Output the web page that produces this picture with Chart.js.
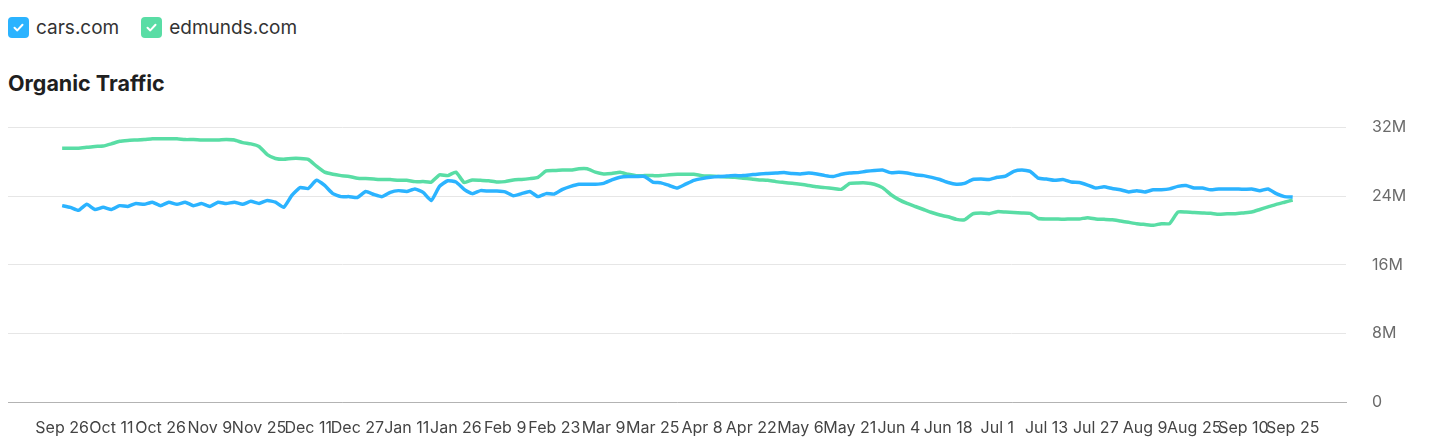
<!DOCTYPE html>
<html>
<head>
<meta charset="utf-8">
<script src="https://cdn.jsdelivr.net/npm/chart.js@4"></script>
<style>
  body { margin: 0; background: #fff; font-family: Inter, "Noto Sans", sans-serif; }
  .legend { position: absolute; left: 8px; top: 16px; display: flex; align-items: center; }
  .item { display: flex; align-items: center; margin-right: 22px; font-size: 19px; color: #333; }
  .box { width: 21px; height: 21px; border-radius: 4px; margin-right: 7px; display: flex; align-items: center; justify-content: center; }
  .title { position: absolute; left: 8px; top: 70px; font-size: 21.5px; font-weight: 700; color: #1f1f1f; }
  .wrap { position: absolute; left: 0; top: 92px; width: 1429px; height: 349px; }
</style>
</head>
<body>
<div class="legend">
  <div class="item"><div class="box" style="background:#2bb3ff"><svg width="13" height="13" viewBox="0 0 13 13"><path d="M2.5 6.8 L5.3 9.4 L10.5 3.8" stroke="#fff" stroke-width="2" fill="none" stroke-linecap="round" stroke-linejoin="round"/></svg></div>cars.com</div>
  <div class="item"><div class="box" style="background:#59dda5"><svg width="13" height="13" viewBox="0 0 13 13"><path d="M2.5 6.8 L5.3 9.4 L10.5 3.8" stroke="#fff" stroke-width="2" fill="none" stroke-linecap="round" stroke-linejoin="round"/></svg></div>edmunds.com</div>
</div>
<div class="title">Organic Traffic</div>
<div class="wrap"><canvas id="chart"></canvas></div>
<script>
// tick labels, one every 6 points
var tickLabels = ['Sep 26', 'Oct 11', 'Oct 26', 'Nov 9', 'Nov 25', 'Dec 11', 'Dec 27', 'Jan 11', 'Jan 26',
  'Feb 9', 'Feb 23', 'Mar 9', 'Mar 25', 'Apr 8', 'Apr 22', 'May 6', 'May 21', 'Jun 4', 'Jun 18',
  'Jul 1', 'Jul 13', 'Jul 27', 'Aug 9', 'Aug 25', 'Sep 10', 'Sep 25'];

// organic traffic, millions
var carsCom = [22.9, 22.7, 22.35, 23.05, 22.45, 22.7, 22.45, 22.9, 22.8, 23.15,
  23.05, 23.3, 22.9, 23.3, 23.05, 23.3, 22.9, 23.15, 22.8, 23.3,
  23.15, 23.3, 23.05, 23.4, 23.15, 23.5, 23.3, 22.7, 24.1, 25.0,
  24.9, 25.85, 25.25, 24.3, 23.95, 23.95, 23.85, 24.55, 24.2, 23.95,
  24.45, 24.65, 24.55, 24.85, 24.45, 23.5, 25.15, 25.8, 25.65, 24.8,
  24.3, 24.65, 24.6, 24.6, 24.5, 24.05, 24.3, 24.55, 23.95, 24.3,
  24.25, 24.8, 25.15, 25.4, 25.4, 25.4, 25.5, 25.9, 26.2, 26.3,
  26.3, 26.3, 25.65, 25.55, 25.25, 24.95, 25.4, 25.85, 26.05, 26.2,
  26.3, 26.35, 26.4, 26.4, 26.5, 26.6, 26.65, 26.7, 26.75, 26.65,
  26.6, 26.7, 26.6, 26.4, 26.3, 26.55, 26.7, 26.75, 26.9, 27.0,
  27.05, 26.75, 26.8, 26.7, 26.5, 26.4, 26.2, 25.95, 25.6, 25.4,
  25.5, 25.95, 26.0, 25.95, 26.2, 26.35, 26.9, 27.05, 26.9, 26.1,
  26.0, 25.85, 25.95, 25.65, 25.6, 25.3, 24.95, 25.1, 24.9, 24.75,
  24.5, 24.65, 24.5, 24.75, 24.75, 24.85, 25.15, 25.25, 24.95, 24.95,
  24.75, 24.85, 24.85, 24.85, 24.8, 24.85, 24.65, 24.85, 24.3, 23.95,
  23.9];

var edmundsCom = [29.6, 29.6, 29.6, 29.7, 29.8, 29.85, 30.1, 30.4, 30.5, 30.55,
  30.6, 30.7, 30.7, 30.7, 30.7, 30.6, 30.6, 30.55, 30.55, 30.55,
  30.6, 30.55, 30.25, 30.1, 29.8, 28.85, 28.4, 28.3, 28.4, 28.4,
  28.3, 27.5, 26.8, 26.55, 26.4, 26.3, 26.1, 26.05, 26.0, 25.95,
  25.95, 25.85, 25.85, 25.7, 25.7, 25.65, 26.5, 26.4, 26.8, 25.6,
  25.9, 25.85, 25.8, 25.65, 25.7, 25.9, 25.95, 26.05, 26.2, 26.95,
  27.0, 27.05, 27.05, 27.2, 27.2, 26.8, 26.6, 26.65, 26.8, 26.55,
  26.4, 26.4, 26.4, 26.4, 26.5, 26.55, 26.55, 26.55, 26.4, 26.35,
  26.3, 26.25, 26.2, 26.1, 26.0, 25.9, 25.85, 25.7, 25.6, 25.5,
  25.4, 25.25, 25.1, 25.0, 24.9, 24.8, 25.5, 25.55, 25.55, 25.4,
  25.0, 24.2, 23.6, 23.15, 22.8, 22.45, 22.1, 21.8, 21.6, 21.3,
  21.25, 21.95, 22.05, 21.95, 22.2, 22.15, 22.1, 22.05, 22.0, 21.4,
  21.35, 21.35, 21.3, 21.35, 21.35, 21.5, 21.35, 21.3, 21.25, 21.1,
  20.95, 20.8, 20.7, 20.6, 20.8, 20.8, 22.15, 22.15, 22.1, 22.05,
  22.0, 21.9, 21.95, 21.95, 22.05, 22.15, 22.45, 22.75, 23.05, 23.3,
  23.55];

var step = (carsCom.length - 1) / (tickLabels.length - 1);
var toPoints = function(arr) { return arr.map(function(v, i) { return { x: i, y: v }; }); };

new Chart(document.getElementById('chart'), {
  type: 'line',
  data: {
    datasets: [
      { label: 'cars.com', data: toPoints(carsCom), borderColor: '#2bb3ff', borderWidth: 3.5, pointRadius: 0, tension: 0.15 },
      { label: 'edmunds.com', data: toPoints(edmundsCom), borderColor: '#59dda5', borderWidth: 3.5, pointRadius: 0, tension: 0.15 }
    ]
  },
  options: {
    responsive: true,
    maintainAspectRatio: false,
    animation: false,
    layout: { padding: { top: 17, left: 8, right: 0, bottom: 0 } },
    plugins: { legend: { display: false }, tooltip: { enabled: false } },
    scales: {
      x: {
        type: 'linear',
        min: -6.6,
        max: 156.5,
        afterBuildTicks: function(s) {
          s.ticks = tickLabels.map(function(t, i) { return { value: i * step }; });
        },
        afterFit: function(s) { s.height = 39; },
        grid: { display: false, drawTicks: false },
        border: { display: true, color: '#b3b3b3', width: 1 },
        ticks: {
          autoSkip: false,
          maxRotation: 0,
          padding: 17,
          color: '#444',
          font: { family: 'Inter', size: 16 },
          callback: function(v) { return tickLabels[Math.round(v / step)]; }
        }
      },
      y: {
        position: 'right',
        min: 0,
        max: 32,
        afterFit: function(s) { s.width = 83; },
        grid: { color: '#e6e6e6', drawTicks: false },
        border: { display: false },
        ticks: {
          stepSize: 8,
          padding: 26,
          color: '#6b6b6b',
          font: { family: 'Inter', size: 16 },
          callback: function(v) { return v === 0 ? '0' : v + 'M'; }
        }
      }
    }
  }
});
</script>
</body>
</html>
